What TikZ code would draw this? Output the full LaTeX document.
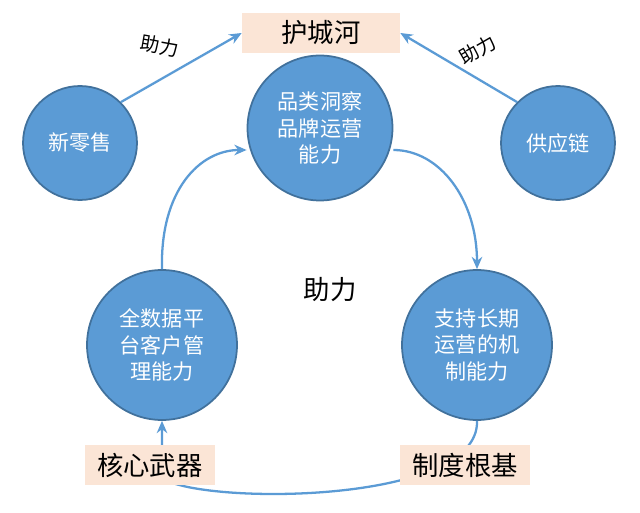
\documentclass[tikz,border=0pt]{standalone}
\usepackage{fontspec}
\setmainfont{Noto Sans CJK SC}
\usetikzlibrary{arrows.meta}
\definecolor{ballfill}{HTML}{5B9BD5}
\definecolor{balledge}{HTML}{41719C}
\definecolor{tagfill}{HTML}{FBE5D6}
\tikzset{
  ball/.style={circle, fill=ballfill, draw=balledge, line width=1pt, text=white, align=center, font=\fontsize{12}{15}\selectfont},
  tag/.style={fill=tagfill, minimum height=0.8cm, font=\fontsize{15}{18}\selectfont},
  link/.style={draw=ballfill, line width=1.3pt, -{Stealth[length=7pt,width=6pt]}},
  side/.style={font=\fontsize{11}{13}\selectfont}
}
\begin{document}
\begin{tikzpicture}[x=0.02cm, y=-0.02cm]
  \useasboundingbox (0,0) rectangle (640,513);
  \node[ball, minimum size=2.28cm] (xls) at (80,143) {新零售};
  \node[ball, minimum size=2.9cm] (pl) at (320,128) {品类洞察\\品牌运营\\能力};
  \node[ball, minimum size=2.28cm] (gyl) at (558,143) {供应链};
  \node[ball, minimum size=3cm] (sj) at (162,345) {全数据平\\台客户管\\理能力};
  \node[ball, minimum size=3cm] (zc) at (477,345) {支持长期\\运营的机\\制能力};
  \node[font=\fontsize{15}{18}\selectfont] (zl) at (330,290) {助力};
  % lower loop, drawn below the tags
  \draw[link] (zc.south) .. controls (480,505) and (200,505) .. (162,478) -- (sj.south);
  \node[tag, minimum width=3.16cm] (hch) at (321,33) {护城河};
  \node[tag, minimum width=2.6cm] (hx) at (150,465) {核心武器};
  \node[tag, minimum width=2.6cm] (zd) at (465,465) {制度根基};
  \node[side, rotate=-10] (zl1) at (160,46) {助力};
  \node[side, rotate=30] (zl2) at (478,50) {助力};
  \draw[link] (xls.45) -- (hch.west);
  \draw[link] (gyl.135) -- (hch.east);
  \draw[link] (sj.north) .. controls (160,190) and (200,150) .. (pl.west |- 0,150);
  \draw[link] (pl.east |- 0,150) .. controls (440,150) and (477,200) .. (zc.north);
\end{tikzpicture}
\end{document}
